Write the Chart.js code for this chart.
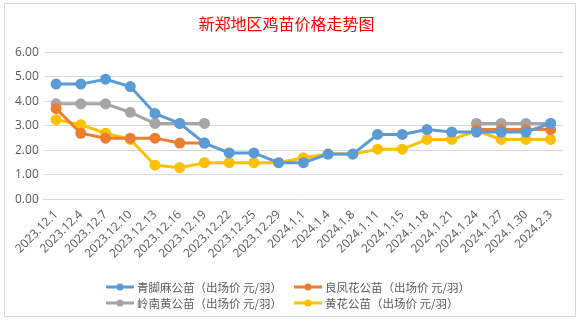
<!DOCTYPE html>
<html lang="zh">
<head>
<meta charset="UTF-8">
<title>新郑地区鸡苗价格走势图</title>
<script src="https://cdn.jsdelivr.net/npm/chart.js"></script>
<style>
  body {
    margin: 0;
    background: #fff;
    font-family: "Noto Sans CJK SC", sans-serif;
  }
  .frame {
    position: absolute;
    left: 4px;
    top: 3px;
    width: 570px;
    height: 312px;
    border: 1px solid #d9d9d9;
  }
  canvas {
    position: absolute;
    left: 0;
    top: 0;
  }
  #legend {
    position: absolute;
    left: 105px;
    top: 279px;
    width: 400px;
    display: grid;
    grid-template-columns: 188px 200px;
    row-gap: 0;
    font-size: 11.5px;
    color: #595959;
    line-height: 16px;
  }
  #legend .item {
    display: flex;
    align-items: center;
    white-space: nowrap;
  }
  #legend canvas {
    position: static;
    margin-right: 2px;
  }
</style>
</head>
<body>
<div class="frame"></div>
<canvas id="priceChart" width="579" height="322"></canvas>
<div id="legend"></div>
<script>
const dates = ['2023.12.1', '2023.12.4', '2023.12.7', '2023.12.10', '2023.12.13', '2023.12.16', '2023.12.19',
  '2023.12.22', '2023.12.25', '2023.12.29', '2024.1.1', '2024.1.4', '2024.1.8', '2024.1.11', '2024.1.15',
  '2024.1.18', '2024.1.21', '2024.1.24', '2024.1.27', '2024.1.30', '2024.2.3'];

const qingjiaoma = [4.7, 4.7, 4.9, 4.6, 3.5, 3.1, 2.3, 1.9, 1.9, 1.5, 1.5, 1.85, 1.85, 2.65, 2.65, 2.85, 2.75, 2.75, 2.75, 2.75, 3.1];
const liangfenghua = [3.7, 2.7, 2.5, 2.5, 2.5, 2.3, 2.3, null, null, null, null, null, null, null, null, null, null, 2.85, 2.85, 2.85, 2.85];
const lingnanhuang = [3.9, 3.9, 3.9, 3.55, 3.1, 3.1, 3.1, null, null, null, null, null, null, null, null, null, null, 3.1, 3.1, 3.1, 3.1];
const huanghua = [3.25, 3.05, 2.7, 2.45, 1.4, 1.3, 1.5, 1.5, 1.5, 1.5, 1.7, 1.85, 1.85, 2.05, 2.05, 2.45, 2.45, 2.8, 2.45, 2.45, 2.45];

const seriesNames = ['青脚麻公苗（出场价 元/羽）', '良凤花公苗（出场价 元/羽）', '岭南黄公苗（出场价 元/羽）', '黄花公苗（出场价 元/羽）'];
const colors = ['#5b9bd5', '#ed7d31', '#a5a5a5', '#ffc000'];

// legend marker: short line with a dot, like the spreadsheet legend
function legendMarker(color) {
  const c = document.createElement('canvas');
  c.width = 30;
  c.height = 10;
  const g = c.getContext('2d');
  g.strokeStyle = color;
  g.lineWidth = 3;
  g.beginPath();
  g.moveTo(1, 5);
  g.lineTo(29, 5);
  g.stroke();
  g.fillStyle = color;
  g.beginPath();
  g.arc(15, 5, 3.5, 0, Math.PI * 2);
  g.fill();
  return c;
}

const allData = [qingjiaoma, liangfenghua, lingnanhuang, huanghua];
const datasets = allData.map((d, i) => ({
  label: seriesNames[i],
  data: d,
  borderColor: colors[i],
  backgroundColor: colors[i],
  borderWidth: 3,
  pointRadius: 4,
  pointHoverRadius: 4,
  pointStyle: 'circle',
  tension: 0,
  spanGaps: false
}));

// html legend in two columns
const legendBox = document.getElementById('legend');
seriesNames.forEach((name, i) => {
  const item = document.createElement('div');
  item.className = 'item';
  item.appendChild(legendMarker(colors[i]));
  const span = document.createElement('span');
  span.textContent = name;
  item.appendChild(span);
  legendBox.appendChild(item);
});

const ctx = document.getElementById('priceChart').getContext('2d');
new Chart(ctx, {
  type: 'line',
  data: { labels: dates, datasets: datasets },
  options: {
    responsive: false,
    animation: false,
    layout: { padding: { left: 10, right: 16, top: 6, bottom: 61 } },
    scales: {
      x: {
        offset: true,
        grid: { display: false },
        border: { color: '#d9d9d9' },
        ticks: {
          color: '#595959',
          font: { family: 'Open Sans, sans-serif', size: 12 },
          minRotation: 45,
          maxRotation: 45,
          autoSkip: false,
          padding: 0
        }
      },
      y: {
        min: 0,
        max: 6,
        grid: { color: '#d9d9d9', drawTicks: false },
        border: { display: false },
        ticks: {
          stepSize: 1,
          color: '#595959',
          padding: 5,
          font: { family: 'Open Sans, sans-serif', size: 12 },
          callback: v => v.toFixed(2)
        }
      }
    },
    plugins: {
      title: {
        display: true,
        text: '新郑地区鸡苗价格走势图',
        color: '#ff0000',
        font: { family: 'Noto Sans CJK SC', size: 16, weight: 'normal' },
        padding: { top: 8, bottom: 19 }
      },
      legend: { display: false },
      tooltip: { enabled: false }
    }
  }
});
</script>
</body>
</html>
